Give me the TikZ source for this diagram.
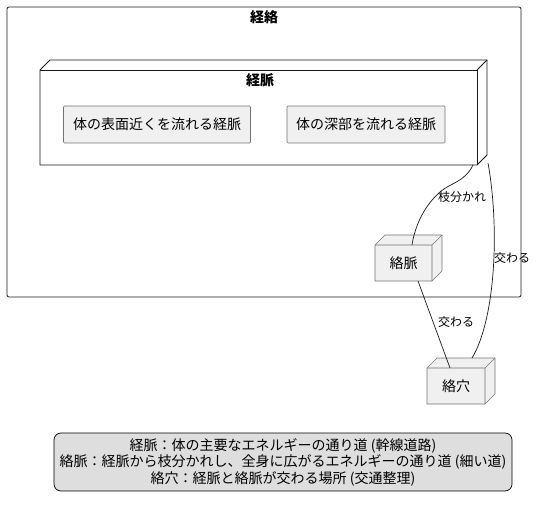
\documentclass[tikz,border=0pt]{standalone}
\usepackage{fontspec}
\setmainfont{Noto Sans CJK JP}
\begin{document}
\begin{tikzpicture}[x=1pt,y=-1pt,
  frm/.style={draw=black!90, line width=0.8pt},
  lbl/.style={font=\fontsize{14}{16}\selectfont, inner sep=0pt},
  elbl/.style={font=\fontsize{12}{14}\selectfont, inner sep=0pt, anchor=west},
  rect/.style={draw=black!55, fill=black!6, line width=0.6pt, rounded corners=1pt, minimum height=37pt, inner sep=0pt, font=\fontsize{14}{16}\selectfont},
  edge/.style={draw=black!90, line width=0.7pt}
]
\useasboundingbox (0,0) rectangle (537,510);
% outer frame
\draw[frm, rounded corners=2pt] (7,7) rectangle (521,297);
\node[lbl, font=\fontsize{14}{16}\selectfont\bfseries] (title) at (264,17) {経絡};
% package 3D
\draw[frm, fill=white] (40,70) -- (50,60) -- (487,60) -- (487,155) -- (477,165) -- (40,165) -- cycle;
\draw[frm] (40,70) -- (477,70) -- (477,165);
\draw[frm] (477,70) -- (487,60);
\node[lbl, font=\fontsize{14}{16}\selectfont\bfseries] (pkg) at (260,80) {経脈};
\coordinate (pkgb) at (473,165);
\coordinate (pkgr) at (488,163);
\node[rect, minimum width=187pt] (surf) at (157,124.5) {体の表面近くを流れる経脈};
\node[rect, minimum width=158pt] (deep) at (366,124.5) {体の深部を流れる経脈};
% node 絡脈
\draw[draw=black!55, fill=black!6, line width=0.6pt] (375,245) -- (385,235) -- (442,235) -- (442,271) -- (432,281) -- (375,281) -- cycle;
\draw[draw=black!55, line width=0.6pt] (375,245) -- (432,245) -- (432,281) (432,245) -- (442,235);
\node[lbl] (rm) at (403.5,263) {絡脈};
\coordinate (rmt) at (412,245);
\coordinate (rmb) at (418,281);
% node 絡穴
\draw[draw=black!55, fill=black!6, line width=0.6pt] (427,368) -- (437,358) -- (495,358) -- (495,394) -- (485,404) -- (427,404) -- cycle;
\draw[draw=black!55, line width=0.6pt] (427,368) -- (485,368) -- (485,404) (485,368) -- (495,358);
\node[lbl] (rk) at (456,386) {絡穴};
\coordinate (rkt1) at (450,368);
\coordinate (rkt2) at (472,358);
% edges
\draw[edge] (pkgb) .. controls (465,182) and (450,183) .. (440,192) .. controls (425,205) and (415,225) .. (rmt);
\node[elbl] (e1) at (438,197) {枝分かれ};
\draw[edge] (pkgr) .. controls (500,230) and (495,320) .. (rkt2);
\node[elbl] (e2) at (494,258) {交わる};
\draw[edge] (rmb) -- (rkt1);
\node[elbl] (e3) at (438,322) {交わる};
% legend
\node[draw=black, fill=black!13, line width=0.7pt, rounded corners=7pt, minimum width=458pt, minimum height=58pt, align=center, font=\fontsize{14}{16.5}\selectfont, inner sep=0pt] (legend) at (283,462) {経脈：体の主要なエネルギーの通り道 (幹線道路)\\絡脈：経脈から枝分かれし、全身に広がるエネルギーの通り道 (細い道)\\絡穴：経脈と絡脈が交わる場所 (交通整理)};
\end{tikzpicture}
\end{document}
